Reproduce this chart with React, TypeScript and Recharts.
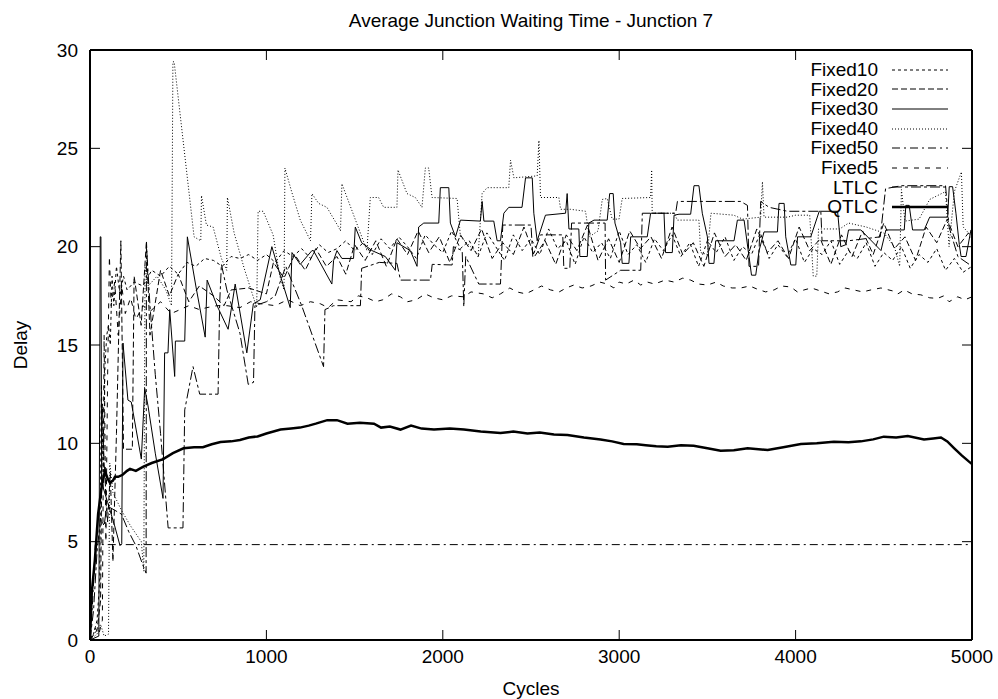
import { LineChart, Line, XAxis, YAxis, Legend } from 'recharts'

// [cycles, delay] pairs
const fixed10: [number, number][] = [
  [0, 0], [20, 0.3], [40, 1.0], [55, 3.0], [65, 13.0], [75, 8.0], [85, 14.0], [95, 15.5], [105, 16.0], [115, 15.0],
  [125, 18.5], [135, 17.0], [150, 19.0], [170, 17.5], [190, 18.5], [210, 17.8], [250, 18.2], [300, 18.0], [350, 18.8],
  [400, 18.5], [450, 19.0], [500, 18.6], [550, 19.2], [600, 19.0], [650, 19.4], [700, 19.3], [750, 19.0], [800, 19.5],
  [850, 19.4], [900, 19.6], [950, 19.3], [1000, 19.6], [1050, 19.2], [1100, 19.8], [1150, 19.5], [1200, 19.9],
  [1250, 19.4], [1300, 20.1], [1350, 19.7], [1400, 19.9], [1450, 20.3], [1500, 19.8], [1550, 20.2], [1600, 19.6],
  [1650, 20.4], [1700, 19.9], [1750, 20.5], [1800, 20.0], [1850, 19.4], [1900, 20.6], [1950, 20.1], [2000, 19.7],
  [2050, 20.8], [2100, 19.9], [2150, 20.3], [2200, 19.5], [2250, 20.7], [2300, 20.0], [2350, 19.3], [2400, 20.6],
  [2450, 19.8], [2500, 20.4], [2550, 19.6], [2600, 20.9], [2650, 19.9], [2700, 20.3], [2750, 19.1], [2800, 20.5],
  [2850, 19.7], [2900, 20.2], [2950, 19.4], [3000, 20.8], [3050, 19.6], [3100, 20.1], [3150, 19.2], [3200, 20.4],
  [3250, 19.8], [3300, 20.6], [3350, 19.5], [3400, 20.2], [3450, 19.0], [3500, 20.3], [3550, 19.7], [3600, 20.5],
  [3650, 19.3], [3700, 20.0], [3750, 19.6], [3800, 20.7], [3850, 19.4], [3900, 20.1], [3950, 19.5], [4000, 20.4],
  [4050, 19.2], [4100, 19.9], [4150, 19.6], [4200, 20.3], [4250, 19.1], [4300, 19.8], [4350, 19.4], [4400, 20.2],
  [4450, 19.0], [4500, 19.7], [4550, 19.3], [4600, 20.0], [4650, 18.9], [4700, 19.6], [4750, 19.2], [4800, 19.9],
  [4850, 18.8], [4900, 19.4], [4950, 18.7], [5000, 19.0],
]

const fixed20: [number, number][] = [
  [0, 0], [40, 0.5], [60, 2.0], [70, 12.0], [80, 9.0], [100, 6.0], [115, 8.5], [130, 4.0], [150, 10.5], [175, 20.3],
  [190, 9.7], [240, 9.7], [250, 18.5], [290, 16.0], [320, 20.3], [340, 15.5], [400, 18.8], [450, 17.5], [500, 18.6],
  [560, 17.2], [620, 18.0], [700, 17.5], [760, 17.0], [800, 17.8], [900, 17.9], [1000, 17.6], [1040, 19.2],
  [1100, 18.4], [1160, 19.6], [1220, 18.8], [1280, 19.9], [1340, 19.0], [1400, 19.5], [1450, 18.6], [1500, 20.1],
  [1560, 19.3], [1620, 20.3], [1680, 19.0], [1740, 20.4], [1800, 19.6], [1860, 20.8], [1920, 19.7], [1980, 20.5],
  [2040, 19.2], [2100, 20.6], [2160, 19.8], [2220, 20.9], [2280, 19.4], [2340, 20.2], [2400, 19.6], [2460, 21.0],
  [2520, 19.5], [2580, 20.3], [2640, 19.1], [2700, 20.6], [2760, 19.8], [2820, 21.1], [2880, 19.3], [2940, 20.4],
  [3000, 19.2], [3060, 20.8], [3120, 19.9], [3180, 20.5], [3240, 19.4], [3300, 21.0], [3360, 19.6], [3420, 20.2],
  [3480, 19.0], [3540, 20.7], [3600, 19.5], [3660, 20.1], [3720, 19.3], [3780, 20.9], [3840, 19.7], [3900, 20.3],
  [3960, 19.4], [4020, 21.0], [4080, 19.8], [4140, 20.4], [4200, 19.1], [4260, 20.6], [4320, 19.5], [4380, 20.8],
  [4440, 19.6], [4500, 21.2], [4560, 19.9], [4620, 20.5], [4680, 19.3], [4740, 21.0], [4800, 20.2], [4860, 21.4],
  [4920, 20.0], [4980, 20.7], [5000, 20.4],
]

const fixed30: [number, number][] = [
  [0, 0], [50, 0.2], [58, 20.5], [62, 20.5], [66, 8.0], [100, 7.0], [140, 5.8], [170, 4.8], [180, 4.9], [187, 15.1],
  [215, 12.2], [234, 12.1], [291, 9.2], [310, 12.8], [329, 11.9], [370, 9.5], [414, 7.2], [423, 14.6], [442, 14.6],
  [452, 16.8], [480, 13.4], [484, 15.2], [537, 15.2], [552, 20.5], [600, 18.0], [653, 15.4], [664, 18.3], [720, 17.0],
  [783, 15.8], [823, 18.1], [889, 14.6], [926, 17.1], [965, 17.3], [1031, 20.0], [1080, 18.5], [1135, 16.9],
  [1145, 19.7], [1192, 19.1], [1258, 19.8], [1267, 19.8], [1371, 18.1], [1381, 19.3], [1400, 19.8], [1428, 19.4],
  [1494, 19.4], [1504, 21.0], [1540, 20.2], [1599, 19.8], [1674, 19.5], [1731, 18.8], [1740, 20.2], [1816, 19.8],
  [1854, 19.0], [1863, 21.0], [1892, 21.2], [1977, 21.2], [1986, 23.0], [2034, 23.0], [2043, 21.2], [2072, 20.5],
  [2100, 21.35], [2213, 21.3], [2223, 22.3], [2233, 21.3], [2289, 21.3], [2308, 20.3], [2327, 20.3], [2346, 21.7],
  [2374, 22.0], [2449, 22.0], [2469, 23.5], [2507, 23.5], [2516, 21.7], [2535, 20.3], [2582, 21.6], [2696, 21.7],
  [2705, 22.7], [2715, 20.9], [2771, 20.9], [2777, 19.5], [2819, 19.5], [2828, 21.2], [2857, 21.35], [2932, 21.35],
  [2946, 22.7], [2966, 22.7], [2976, 21.2], [3008, 20.2], [3017, 19.15], [3055, 19.15], [3065, 20.5], [3159, 20.5],
  [3178, 21.7], [3254, 21.7], [3263, 19.7], [3301, 19.7], [3311, 21.6], [3339, 21.65], [3405, 21.65], [3424, 23.1],
  [3452, 23.1], [3471, 21.7], [3500, 20.5], [3509, 19.15], [3537, 19.15], [3547, 20.3], [3651, 20.3], [3670, 21.35],
  [3708, 21.35], [3736, 19.5], [3750, 18.55], [3774, 18.55], [3793, 19.8], [3821, 20.75], [3897, 20.75], [3906, 22.2],
  [3935, 22.2], [3944, 20.5], [3973, 19.07], [4001, 19.07], [4011, 20.5], [4086, 20.5], [4134, 21.8], [4143, 21.8],
  [4238, 21.8], [4256, 20.0], [4285, 20.1], [4300, 20.85], [4370, 20.85], [4484, 19.8], [4512, 20.85], [4616, 20.85],
  [4625, 22.1], [4644, 22.1], [4663, 20.85], [4729, 20.85], [4760, 21.5], [4862, 21.5], [4871, 23.05], [4890, 23.05],
  [4909, 21.7], [4928, 20.1], [4938, 19.5], [4966, 19.5], [4994, 20.85], [5000, 20.85],
]

const fixed40: [number, number][] = [
  [0, 0], [40, 0.3], [60, 0.8], [80, 0.2], [105, 0.3], [112, 9.0], [130, 7.5], [178, 6.6], [230, 5.8], [291, 5.0],
  [305, 3.5], [312, 19.0], [330, 18.0], [380, 18.5], [430, 17.8], [462, 17.0], [470, 29.4], [477, 29.4], [590, 20.5],
  [628, 20.3], [632, 22.6], [660, 21.1], [698, 21.0], [745, 19.4], [775, 18.8], [779, 22.5], [817, 20.7], [874, 18.9],
  [945, 16.9], [953, 21.8], [982, 21.8], [1038, 20.6], [1076, 18.5], [1100, 17.8], [1105, 24.0], [1143, 22.8],
  [1192, 21.35], [1250, 20.3], [1258, 22.7], [1296, 22.2], [1343, 22.0], [1409, 21.0], [1420, 20.8], [1428, 23.2],
  [1570, 19.8], [1589, 22.5], [1636, 22.5], [1665, 22.0], [1740, 22.0], [1746, 23.9], [1797, 22.7], [1844, 22.5],
  [1882, 22.0], [1901, 24.0], [1920, 24.0], [1939, 22.5], [2081, 22.45], [2100, 20.5], [2180, 19.8], [2200, 19.5],
  [2223, 22.7], [2251, 23.0], [2374, 23.0], [2384, 24.4], [2403, 23.5], [2535, 23.6], [2545, 25.4], [2554, 22.5],
  [2658, 22.5], [2668, 21.9], [2724, 21.9], [2809, 21.8], [2830, 20.5], [2880, 20.8], [2904, 22.4], [2932, 22.45],
  [2960, 21.4], [2999, 21.4], [3017, 22.45], [3178, 22.5], [3184, 23.9], [3187, 21.7], [3311, 21.7], [3330, 21.35],
  [3452, 21.35], [3462, 19.7], [3500, 19.6], [3520, 21.7], [3650, 21.6], [3700, 21.4], [3802, 21.5], [3812, 23.3],
  [3821, 21.5], [3954, 21.5], [4000, 21.6], [4080, 21.6], [4100, 18.5], [4120, 18.5], [4130, 20.9], [4250, 20.9],
  [4300, 21.2], [4400, 21.0], [4500, 20.7], [4560, 20.0], [4590, 19.0], [4600, 22.9], [4620, 21.3], [4700, 21.4],
  [4760, 22.4], [4850, 22.8], [4870, 20.0], [4900, 22.8], [4940, 23.8], [4950, 21.0], [5000, 20.5],
]

const fixed50: [number, number][] = [[0, 0], [15, 2.0], [30, 4.85], [5000, 4.85]]

const fixed5: [number, number][] = [
  [0, 0], [30, 0.6], [50, 0.3], [70, 1.0], [80, 15.5], [90, 5.0], [100, 13.5], [110, 19.5], [120, 17.0], [140, 18.2],
  [160, 15.5], [180, 18.0], [200, 16.6], [230, 17.4], [260, 16.3], [300, 17.0], [340, 16.7], [400, 17.2], [460, 16.6],
  [511, 16.8], [560, 17.0], [620, 16.8], [662, 16.9], [720, 17.0], [776, 17.0], [850, 16.9], [910, 17.2], [965, 17.1],
  [1050, 17.0], [1120, 17.3], [1192, 17.0], [1250, 17.2], [1305, 17.1], [1350, 16.9], [1400, 17.3], [1480, 17.2],
  [1520, 17.5], [1570, 17.4], [1620, 17.2], [1660, 17.3], [1710, 17.6], [1759, 17.45], [1800, 17.2], [1850, 17.3],
  [1900, 17.6], [1948, 17.4], [2000, 17.3], [2050, 17.5], [2119, 17.45], [2160, 17.7], [2230, 17.6], [2280, 17.4],
  [2327, 17.6], [2380, 17.9], [2420, 17.7], [2470, 17.6], [2516, 17.8], [2560, 18.0], [2611, 17.8], [2660, 17.7],
  [2700, 17.9], [2743, 18.05], [2790, 17.9], [2840, 18.0], [2890, 18.2], [2932, 18.1], [2970, 17.9], [3000, 18.2],
  [3040, 18.1], [3084, 18.3], [3122, 18.05], [3160, 18.2], [3200, 18.1], [3260, 18.3], [3311, 18.2], [3360, 18.4],
  [3405, 18.3], [3450, 18.1], [3500, 18.05], [3550, 18.2], [3590, 18.0], [3640, 17.9], [3689, 17.9], [3740, 18.0],
  [3780, 17.85], [3830, 17.7], [3878, 17.8], [3920, 18.0], [3973, 17.95], [4010, 17.7], [4048, 17.8], [4090, 17.9],
  [4140, 17.75], [4190, 17.6], [4238, 17.7], [4280, 17.9], [4330, 17.8], [4380, 17.7], [4427, 17.8], [4484, 17.9],
  [4550, 17.75], [4580, 17.6], [4616, 17.8], [4660, 17.6], [4710, 17.55], [4760, 17.4], [4805, 17.37], [4840, 17.5],
  [4870, 17.2], [4919, 17.45], [4960, 17.3], [5000, 17.45],
]

const ltlc: [number, number][] = [
  [0, 0], [20, 1.5], [40, 4.5], [60, 6.2], [80, 5.8], [90, 6.5], [100, 6.8], [140, 6.6], [178, 6.4], [220, 5.5],
  [260, 4.8], [300, 3.8], [318, 3.4], [320, 20.1], [340, 17.0], [370, 13.5], [400, 10.5], [443, 5.7], [527, 5.7],
  [537, 11.7], [584, 13.9], [622, 12.5], [726, 12.5], [735, 17.1], [745, 19.1], [776, 17.8], [850, 15.6], [897, 13.0],
  [927, 13.1], [935, 17.0], [1000, 17.2], [1050, 17.5], [1110, 19.0], [1200, 17.0], [1324, 13.9], [1332, 16.8],
  [1381, 17.0], [1533, 17.0], [1540, 18.9], [1640, 19.2], [1740, 19.15], [1760, 18.3], [1930, 18.3], [1940, 19.1],
  [2053, 19.07], [2060, 20.0], [2110, 19.8], [2119, 16.95], [2130, 19.5], [2204, 18.1], [2327, 18.1], [2340, 21.1],
  [2500, 21.1], [2510, 19.5], [2554, 20.6], [2680, 20.6], [2686, 18.9], [2720, 18.9], [2730, 21.2], [2920, 21.2],
  [2923, 18.3], [3008, 18.8], [3122, 18.8], [3131, 21.7], [3320, 21.7], [3330, 22.3], [3689, 22.3], [3727, 22.1],
  [3736, 19.0], [3790, 19.0], [3802, 22.3], [3850, 22.0], [3954, 21.8], [4143, 21.8], [4150, 20.3], [4300, 20.3],
  [4480, 20.5], [4510, 22.95], [4600, 23.1], [4850, 23.1], [4870, 21.0], [4920, 19.5], [5000, 19.0],
]

const qtlc: [number, number][] = [
  [0, 0], [10, 2.4], [28, 4.1], [46, 6.4], [66, 7.8], [85, 8.6], [100, 8.2], [113, 8.0], [130, 8.1], [142, 8.3],
  [160, 8.3], [185, 8.4], [210, 8.6], [227, 8.7], [260, 8.6], [300, 8.8], [350, 9.0], [415, 9.2], [470, 9.5],
  [530, 9.75], [590, 9.8], [640, 9.8], [690, 9.95], [740, 10.07], [800, 10.1], [850, 10.17], [900, 10.3], [950, 10.35],
  [1000, 10.5], [1080, 10.7], [1140, 10.75], [1190, 10.8], [1240, 10.9], [1280, 11.0], [1345, 11.18], [1400, 11.18],
  [1460, 11.0], [1530, 11.05], [1610, 11.0], [1650, 10.8], [1700, 10.85], [1760, 10.7], [1820, 10.9], [1880, 10.75],
  [1950, 10.7], [2040, 10.75], [2120, 10.7], [2215, 10.6], [2327, 10.52], [2400, 10.6], [2480, 10.5], [2550, 10.55],
  [2630, 10.45], [2707, 10.42], [2800, 10.3], [2894, 10.2], [2960, 10.1], [3025, 9.97], [3100, 9.95], [3150, 9.9],
  [3210, 9.85], [3275, 9.83], [3350, 9.9], [3422, 9.88], [3500, 9.75], [3575, 9.62], [3650, 9.65], [3728, 9.75],
  [3790, 9.7], [3842, 9.66], [3930, 9.8], [4030, 9.97], [4120, 10.0], [4217, 10.08], [4300, 10.05], [4370, 10.1],
  [4440, 10.2], [4500, 10.34], [4570, 10.3], [4636, 10.37], [4728, 10.2], [4780, 10.25], [4824, 10.3], [4860, 10.1],
  [4898, 9.76], [4940, 9.4], [4983, 9.07], [5000, 8.95],
]

const xTicks = [0, 1000, 2000, 3000, 4000, 5000]
const yTicks = [0, 5, 10, 15, 20, 25, 30]

const FONT = '"Liberation Sans", Arial, Helvetica, sans-serif'
const TITLE = 'Average Junction Waiting Time - Junction 7'

// gnuplot-ish line types, all black
const seriesList = [
  { name: 'Fixed10', points: fixed10, dash: '3 3', width: 1 },
  { name: 'Fixed20', points: fixed20, dash: '6 3', width: 1 },
  { name: 'Fixed30', points: fixed30, dash: undefined, width: 1 },
  { name: 'Fixed40', points: fixed40, dash: '1 2', width: 1 },
  { name: 'Fixed50', points: fixed50, dash: '8 4 2 4', width: 1 },
  { name: 'Fixed5', points: fixed5, dash: '5 6', width: 1 },
  { name: 'LTLC', points: ltlc, dash: '10 3 3 3', width: 1 },
  { name: 'QTLC', points: qtlc, dash: undefined, width: 2.5 },
]

const toRows = (pts: [number, number][]) => pts.map(([cycles, delay]) => ({ cycles, delay }))

function KeyBox() {
  return (
    <div style={{ fontFamily: FONT, fontSize: 19, color: '#000' }}>
      {seriesList.map((s) => (
        <div key={s.name} style={{ display: 'flex', alignItems: 'center', height: 19.6 }}>
          <span style={{ width: 178, textAlign: 'right', lineHeight: '19.6px' }}>{s.name}</span>
          <svg width={56} height={8} style={{ marginLeft: 14 }}>
            <line x1={0} y1={4} x2={56} y2={4} stroke="#000" strokeWidth={s.width} strokeDasharray={s.dash} />
          </svg>
        </div>
      ))}
    </div>
  )
}

function DelayTitle(props: any) {
  const { x, y, height } = props.viewBox
  const cx = x + 20
  const cy = y + height / 2
  return (
    <text x={cx} y={cy} transform={`rotate(-90, ${cx}, ${cy})`} textAnchor="middle" dominantBaseline="central"
      fontFamily={FONT} fontSize={19} fill="#000">
      Delay
    </text>
  )
}

const axisLine = { stroke: '#000', strokeWidth: 2 }
const tickLine = { stroke: '#000', strokeWidth: 1 }
const tickText = { fill: '#000', fontSize: 19, fontFamily: FONT }

export default function App() {
  return (
    <div style={{ position: 'absolute', left: 0, top: 0, background: '#fff' }}>
      <LineChart width={998} height={699} margin={{ top: 49, right: 25, bottom: 0, left: 0 }}>
        <XAxis xAxisId="b" type="number" dataKey="cycles" domain={[0, 5000]} ticks={xTicks} interval={0}
          height={59} tickSize={-10} tickMargin={20} axisLine={axisLine} tickLine={tickLine} tick={tickText}
          allowDataOverflow
          label={{ value: 'Cycles', position: 'insideBottom', offset: 4, fill: '#000', fontSize: 19, fontFamily: FONT }} />
        <XAxis xAxisId="t" orientation="top" type="number" dataKey="cycles" domain={[0, 5000]} ticks={xTicks}
          interval={0} height={1} tickSize={-10} tickFormatter={() => ''} axisLine={axisLine} tickLine={tickLine}
          allowDataOverflow
          label={{ value: TITLE, position: 'top', offset: 22, fill: '#000', fontSize: 19, fontFamily: FONT }} />
        <YAxis yAxisId="l" type="number" domain={[0, 30]} ticks={yTicks} interval={0} width={90} tickSize={-10}
          tickMargin={22} axisLine={axisLine} tickLine={tickLine} tick={tickText} allowDataOverflow
          label={{ content: DelayTitle }} />
        <YAxis yAxisId="r" orientation="right" type="number" domain={[0, 30]} ticks={yTicks} interval={0} width={1}
          tickSize={-10} tickFormatter={() => ''} axisLine={axisLine} tickLine={tickLine} allowDataOverflow />
        <Legend layout="horizontal" align="center" verticalAlign="middle" content={() => <KeyBox />}
          wrapperStyle={{ left: 700, top: 60, width: 260, height: 160 }} />
        {seriesList.map((s) => (
          <Line key={s.name} name={s.name} data={toRows(s.points)} dataKey="delay" xAxisId="b" yAxisId="l"
            type="linear" stroke="#000" strokeWidth={s.width} strokeDasharray={s.dash} dot={false}
            activeDot={false} isAnimationActive={false} />
        ))}
      </LineChart>
    </div>
  )
}
